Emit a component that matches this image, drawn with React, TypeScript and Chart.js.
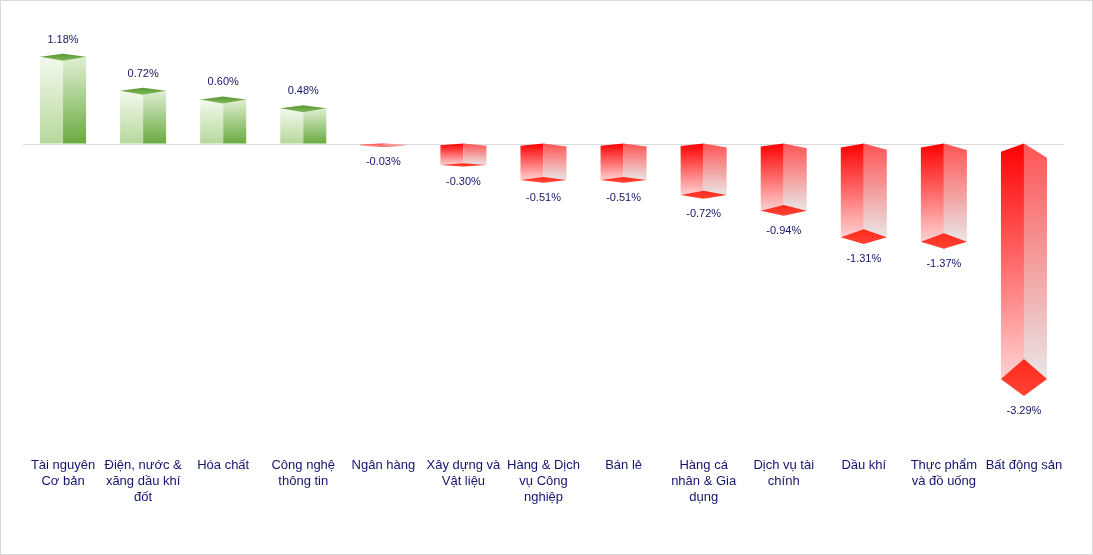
import React, { useEffect, useRef } from "react";
import { Chart, registerables } from "chart.js";

Chart.register(...registerables);

const categories: string[][] = [
  ["Tài nguyên", "Cơ bản"],
  ["Điện, nước &", "xăng dầu khí", "đốt"],
  ["Hóa chất"],
  ["Công nghệ", "thông tin"],
  ["Ngân hàng"],
  ["Xây dựng và", "Vật liệu"],
  ["Hàng & Dịch", "vụ Công", "nghiệp"],
  ["Bán lẻ"],
  ["Hàng cá", "nhân & Gia", "dụng"],
  ["Dịch vụ tài", "chính"],
  ["Dầu khí"],
  ["Thực phẩm", "và đồ uống"],
  ["Bất động sản"],
];

const values: number[] = [1.18, 0.72, 0.6, 0.48, -0.03, -0.3, -0.51, -0.51, -0.72, -0.94, -1.31, -1.37, -3.29];

const yMin = -4.2;
const yMax = 1.6;

const TEXT_COLOR = "#14146e";

function poly(ctx: CanvasRenderingContext2D, pts: number[][], fill: any) {
  ctx.beginPath();
  ctx.moveTo(pts[0][0], pts[0][1]);
  for (let i = 1; i < pts.length; i++) ctx.lineTo(pts[i][0], pts[i][1]);
  ctx.closePath();
  ctx.fillStyle = fill;
  ctx.fill();
}

const prismPlugin = {
  id: "prism3d",
  beforeDatasetsDraw(chart: any) {
    const { ctx, chartArea, scales } = chart;
    const y0 = Math.round(scales.y.getPixelForValue(0)) + 0.5;
    ctx.save();
    ctx.strokeStyle = "#d9d9d9";
    ctx.lineWidth = 1;
    ctx.beginPath();
    ctx.moveTo(chartArea.left, y0);
    ctx.lineTo(chartArea.right, y0);
    ctx.stroke();
    ctx.restore();
  },
  afterDatasetsDraw(chart: any) {
    const ctx: CanvasRenderingContext2D = chart.ctx;
    const meta = chart.getDatasetMeta(0);
    ctx.save();
    meta.data.forEach((el: any, i: number) => {
      const { x, y, base, width } = el.getProps(["x", "y", "base", "width"], true);
      const l = x - width / 2;
      const r = x + width / 2;
      const v = values[i];
      const label = v.toFixed(2) + "%";
      let labelY: number;
      if (v >= 0) {
        const front = y + 4;
        let g = ctx.createLinearGradient(0, y, 0, base);
        g.addColorStop(0, "#f3f9ee");
        g.addColorStop(1, "#b6d89c");
        poly(ctx, [[l, y], [x, front], [x, base], [l, base]], g);
        g = ctx.createLinearGradient(0, y, 0, base);
        g.addColorStop(0, "#e0efd3");
        g.addColorStop(1, "#6aaa40");
        poly(ctx, [[x, front], [r, y], [r, base], [x, base]], g);
        g = ctx.createLinearGradient(0, y - 3, 0, front);
        g.addColorStop(0, "#5a9832");
        g.addColorStop(1, "#7fb858");
        poly(ctx, [[l, y], [x, y - 3], [r, y], [x, front]], g);
        labelY = y - 17;
      } else {
        const d = y - base;
        const ld = 1 + 0.03 * d;
        const rd = 1 + 0.055 * d;
        const s = 0.025 * d;
        const ht = 0.083 * d;
        const hb = Math.max(1, 0.07 * d);
        const cy = y - s;
        let g = ctx.createLinearGradient(0, base, 0, cy);
        g.addColorStop(0, "#ff0000");
        g.addColorStop(1, "#ffd2d2");
        poly(ctx, [[l, base + ld], [x, base], [x, cy + hb], [l, cy]], g);
        g = ctx.createLinearGradient(0, base, 0, cy);
        g.addColorStop(0, "#ff5454");
        g.addColorStop(1, "#e9e6e6");
        poly(ctx, [[x, base], [r, base + rd], [r, cy], [x, cy + hb]], g);
        g = ctx.createLinearGradient(0, cy - ht, 0, cy + hb);
        g.addColorStop(0, "#ff2a1c");
        g.addColorStop(1, "#ff4434");
        poly(ctx, [[l, cy], [x, cy - ht], [r, cy], [x, cy + hb]], g);
        labelY = cy + hb + 15;
      }
      ctx.fillStyle = TEXT_COLOR;
      ctx.font = "11px 'Liberation Sans', Arial, sans-serif";
      ctx.textAlign = "center";
      ctx.textBaseline = "middle";
      ctx.fillText(label, x, labelY);
    });
    ctx.restore();
  },
};

export default function App() {
  const ref = useRef<HTMLCanvasElement | null>(null);
  useEffect(() => {
    if (!ref.current) return;
    const chart = new Chart(ref.current, {
      type: "bar",
      data: {
        labels: categories,
        datasets: [
          {
            data: values,
            backgroundColor: "rgba(0,0,0,0)",
            borderWidth: 0,
            categoryPercentage: 1,
            barPercentage: 0.575,
          },
        ],
      },
      options: {
        responsive: false,
        animation: false,
        devicePixelRatio: 1,
        layout: { padding: { left: 22, right: 28, top: 25, bottom: 44 } },
        plugins: { legend: { display: false }, tooltip: { enabled: false } },
        scales: {
          x: {
            grid: { display: false, drawTicks: false },
            border: { display: false },
            ticks: {
              color: TEXT_COLOR,
              font: { family: "'Liberation Sans', Arial, sans-serif", size: 13, lineHeight: 16 / 13 },
              padding: 5,
              maxRotation: 0,
              autoSkip: false,
            },
          },
          y: {
            display: false,
            min: yMin,
            max: yMax,
          },
        },
      },
      plugins: [prismPlugin],
    });
    return () => chart.destroy();
  }, []);
  return (
    <div
      style={{
        position: "absolute",
        left: 0,
        top: 0,
        width: 1093,
        height: 555,
        boxSizing: "border-box",
        border: "1px solid #d9d9d9",
        background: "#fff",
      }}
    >
      <canvas ref={ref} width={1091} height={553} style={{ display: "block" }} />
    </div>
  );
}
